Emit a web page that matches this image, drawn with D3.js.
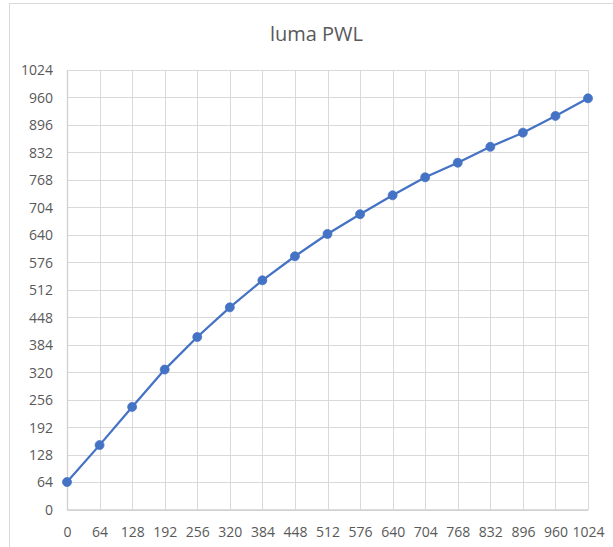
<!DOCTYPE html>
<html>
<head>
<meta charset="utf-8">
<script src="https://cdn.jsdelivr.net/npm/d3@7"></script>
<style>
  html, body { margin: 0; padding: 0; background: #fff; }
  svg { display: block; }
</style>
</head>
<body>
<svg id="chart" width="613" height="547"></svg>
<script>
const titleText = "luma PWL";
const xValues = [0, 64, 128, 192, 256, 320, 384, 448, 512, 576, 640, 704, 768, 832, 896, 960, 1024];
const yValues = [64, 150, 239, 326, 402, 471, 534, 590, 642, 688, 732, 774, 808, 845, 878, 917, 958];
const tickValues = [0, 64, 128, 192, 256, 320, 384, 448, 512, 576, 640, 704, 768, 832, 896, 960, 1024];

const svg = d3.select("#chart");
const W = 613, H = 547;
const plot = { left: 67, right: 588, top: 70, bottom: 509.5 };
const font = "'Open Sans', 'Liberation Sans', sans-serif";
const textColor = "#595959";
const gridColor = "#d9d9d9";
const lineColor = "#4472c4";

svg.append("rect").attr("x", 0).attr("y", 0).attr("width", W).attr("height", H).attr("fill", "#fff");
// chart border (extends beyond canvas on right/bottom)
svg.append("rect").attr("x", 9.5).attr("y", 3.5).attr("width", W + 20).attr("height", H + 20)
  .attr("fill", "#fff").attr("stroke", "#d9d9d9").attr("stroke-width", 1);

const x = d3.scaleLinear().domain([0, 1024]).range([plot.left, plot.right]);
const y = d3.scaleLinear().domain([0, 1024]).range([plot.bottom, plot.top]);

// gridlines
const g = svg.append("g");
g.selectAll(".hg").data(tickValues).join("line")
  .attr("x1", plot.left).attr("x2", plot.right)
  .attr("y1", d => Math.round(y(d)) + 0.5).attr("y2", d => Math.round(y(d)) + 0.5)
  .attr("stroke", gridColor).attr("stroke-width", 1);
g.selectAll(".vg").data(tickValues).join("line")
  .attr("y1", plot.top).attr("y2", plot.bottom)
  .attr("x1", d => Math.round(x(d)) + 0.5).attr("x2", d => Math.round(x(d)) + 0.5)
  .attr("stroke", gridColor).attr("stroke-width", 1);

// axes using d3 axis generators
const xAxis = d3.axisBottom(x).tickValues(tickValues).tickSize(0).tickPadding(0).tickFormat(d3.format("d"));
const yAxis = d3.axisLeft(y).tickValues(tickValues).tickSize(0).tickPadding(0).tickFormat(d3.format("d"));

const xg = svg.append("g").attr("transform", `translate(0,${plot.bottom})`).call(xAxis);
xg.select(".domain").attr("stroke", "#d0d0d0").attr("stroke-width", 1.3);
xg.selectAll("text").attr("font-family", font).attr("font-size", 14).attr("fill", textColor)
  .attr("y", 27).attr("dy", 0);

const yg = svg.append("g").attr("transform", `translate(${plot.left},0)`).call(yAxis);
yg.select(".domain").attr("stroke", "#d0d0d0").attr("stroke-width", 1.3);
yg.selectAll("text").attr("font-family", font).attr("font-size", 14).attr("fill", textColor)
  .attr("x", -14).attr("dy", "0.35em");

// title
svg.append("text").attr("x", 316.5).attr("y", 41).attr("text-anchor", "middle")
  .attr("font-family", font).attr("font-size", 20).attr("fill", textColor).text(titleText);

// line + markers
const data = xValues.map((v, i) => ({ x: v, y: yValues[i] }));
svg.append("path").datum(data)
  .attr("fill", "none").attr("stroke", lineColor).attr("stroke-width", 2.25)
  .attr("stroke-linejoin", "round")
  .attr("d", d3.line().x(d => x(d.x)).y(d => y(d.y)));
svg.selectAll(".pt").data(data).join("circle")
  .attr("cx", d => x(d.x)).attr("cy", d => y(d.y)).attr("r", 4.5)
  .attr("fill", lineColor).attr("stroke", lineColor).attr("stroke-width", 0.75);
</script>
</body>
</html>
